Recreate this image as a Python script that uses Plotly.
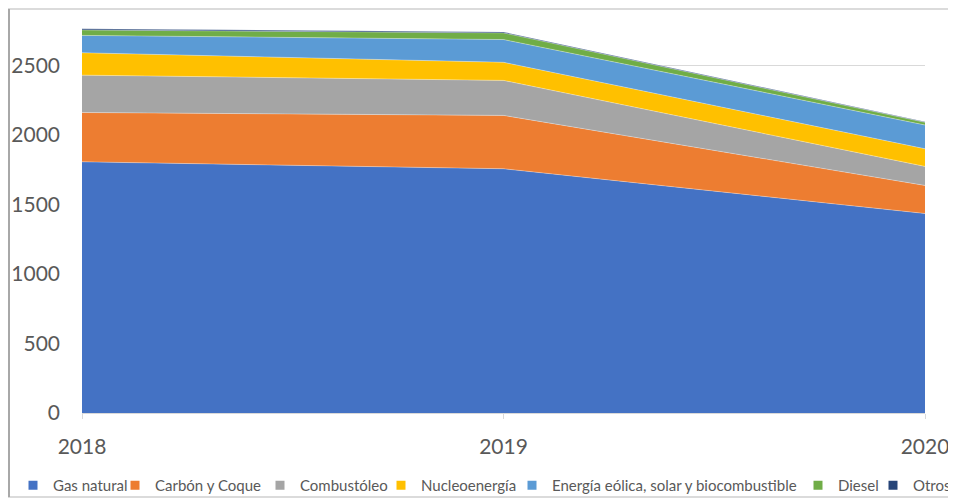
import plotly.graph_objects as go

years = [2018, 2019, 2020]
series_names = ["Gas natural", "Carbón y Coque", "Combustóleo", "Nucleoenergía",
                "Energía eólica, solar y biocombustible", "Diesel", "Otros"]
gas_natural = [1808, 1758, 1436]
carbon_coque = [355, 384, 202]
combustoleo = [269, 252, 137]
nucleoenergia = [161, 130, 127]
eolica_solar_bio = [125, 164, 171]
diesel = [39, 48, 19]
otros = [8, 7, 4]
y_ticks = [0, 500, 1000, 1500, 2000, 2500]

series_values = [gas_natural, carbon_coque, combustoleo, nucleoenergia,
                 eolica_solar_bio, diesel, otros]
colors = ["#4472C4", "#ED7D31", "#A5A5A5", "#FFC000", "#5B9BD5", "#70AD47", "#264478"]

# page has an 8px body margin; figure sized to fill the rest of the window
OFF = 8
W, H = 956 - OFF, 500 - OFF
L, R, T, B = 82 - OFF, 925 - OFF, 24 - OFF, 413 - OFF   # plot area in figure pixels
pw, ph = R - L, B - T

def px_x(p):  # page pixel -> paper coord
    return (p - OFF - L) / pw

def px_y(p):
    return (B - (p - OFF)) / ph

fig = go.Figure()

legend_text_x = [53, 155, 300, 421, 552, 838, 913]
layout_legends = {}
for i, (name, vals, col) in enumerate(zip(series_names, series_values, colors)):
    lg = "legend" if i == 0 else f"legend{i+1}"
    fig.add_trace(go.Scatter(
        x=years, y=vals, name=name, stackgroup="one", mode="lines",
        line=dict(width=0.6, color="rgba(255,255,255,0.55)"),
        fillcolor=col, showlegend=False, hoverinfo="x+y+name"))
    fig.add_trace(go.Scatter(
        x=[None], y=[None], name=name, mode="markers",
        marker=dict(symbol="square", size=9, color=col),
        showlegend=True, legend=lg))
    layout_legends[lg] = dict(
        x=px_x(legend_text_x[i] - 40), xanchor="left",
        y=px_y(485.5), yanchor="middle",
        orientation="h", bgcolor="rgba(0,0,0,0)",
        font=dict(family="Lato", size=15, color="#595959"),
        itemwidth=30)

fig.update_layout(
    width=W, height=H,
    margin=dict(l=L, r=W - R, t=T, b=H - B, autoexpand=False),
    paper_bgcolor="white", plot_bgcolor="white",
    xaxis=dict(range=[2018, 2020], tickvals=years, ticktext=[str(y) for y in years],
               showgrid=False, zeroline=False, showline=True, linecolor="#d9d9d9",
               linewidth=1, ticks="outside", ticklen=5, tickcolor="#d9d9d9",
               tickfont=dict(family="Lato", size=21, color="#595959"),
               ticklabelstandoff=10),
    yaxis=dict(range=[0, 2800], tickvals=y_ticks, showgrid=True, gridcolor="#d9d9d9",
               gridwidth=1, zeroline=False, showline=False, ticks="",
               tickfont=dict(family="Lato", size=21, color="#595959"),
               ticklabelstandoff=21),
    hovermode="closest",
    **layout_legends,
)

# chart frame
fig.add_shape(type="rect", xref="paper", yref="paper",
              x0=px_x(8.5), x1=px_x(953), y0=px_y(497), y1=px_y(9),
              line=dict(color="#cfcfcf", width=1.5), layer="above")
fig.add_shape(type="line", xref="paper", yref="paper",
              x0=px_x(9), x1=px_x(9), y0=px_y(497), y1=px_y(9),
              line=dict(color="#a8a8a8", width=2), layer="above")

fig.write_html("out.html")
